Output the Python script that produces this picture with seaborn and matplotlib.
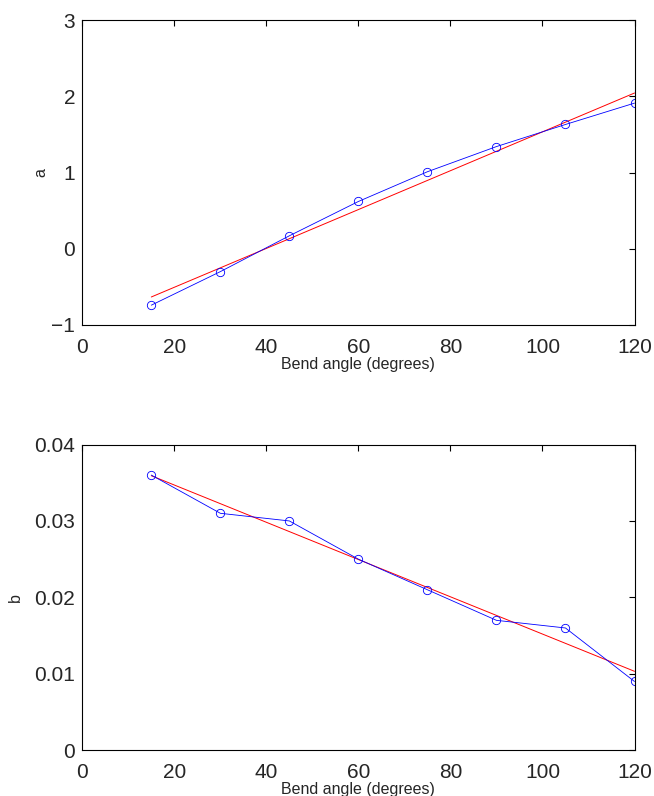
import numpy as np
import pandas as pd
import matplotlib
matplotlib.use("Agg")
import matplotlib.pyplot as plt
import seaborn as sns

# Data
bend_angle = [15, 30, 45, 60, 75, 90, 105, 120]
a_values = [-0.74, -0.30, 0.17, 0.62, 1.01, 1.34, 1.63, 1.91]
b_values = [0.036, 0.031, 0.030, 0.025, 0.021, 0.017, 0.016, 0.009]
x_ticks = [0, 20, 40, 60, 80, 100, 120]
a_ticks = [-1, 0, 1, 2, 3]
b_ticks = [0, 0.01, 0.02, 0.03, 0.04]
b_tick_labels = ["0", "0.01", "0.02", "0.03", "0.04"]

sns.set_style("white")
plt.rcParams['font.family'] = ['Liberation Sans', 'DejaVu Sans']
plt.rcParams['xtick.direction'] = 'in'
plt.rcParams['ytick.direction'] = 'in'

df = pd.DataFrame({"angle": bend_angle, "a": a_values, "b": b_values})

fig = plt.figure(figsize=(6.54, 7.96), dpi=100)
W, H = 654, 796
def rect(l, t, r, b):
    return [l / W, 1 - b / H, (r - l) / W, (b - t) / H]

ax1 = fig.add_axes(rect(82.3, 20, 634.5, 325))
ax2 = fig.add_axes(rect(82.3, 444.5, 634.5, 750.3))

for ax, col, ticks, lim, lx in [(ax1, "a", a_ticks, (-1, 3), 48),
                                (ax2, "b", b_ticks, (0, 0.04), 23)]:
    sns.regplot(data=df, x="angle", y=col, ax=ax, scatter=False, ci=None,
                truncate=True, color=(1, 0, 0), line_kws=dict(lw=0.7))
    sns.lineplot(data=df, x="angle", y=col, ax=ax, color=(0, 0, 1), lw=0.6,
                 marker="o", markersize=6, markerfacecolor="none",
                 markeredgecolor=(0, 0, 1), markeredgewidth=0.6)
    ax.set_xlim(0, 120)
    ax.set_ylim(*lim)
    ax.set_xticks(x_ticks)
    ax.set_yticks(ticks)
    ax.tick_params(axis='both', which='both', direction='in', length=4.5, width=0.8,
                   labelsize=15, top=True, right=True, pad=9, color='black')
    ax.tick_params(axis='y', pad=5)
    for s in ax.spines.values():
        s.set_visible(True)
        s.set_color('black')
        s.set_linewidth(0.8)
    ax.set_xlabel("Bend angle (degrees)", fontsize=11.5, labelpad=0)
    ax.set_ylabel(col, fontsize=11.5)
    ax.yaxis.set_label_coords((lx - 82.3) / 552.2, 0.5)

ax2.set_yticklabels(b_tick_labels)
ax1.set_yticklabels([str(t).replace("-", "\u2212") for t in a_ticks])

fig.savefig("out.png", dpi=100)
